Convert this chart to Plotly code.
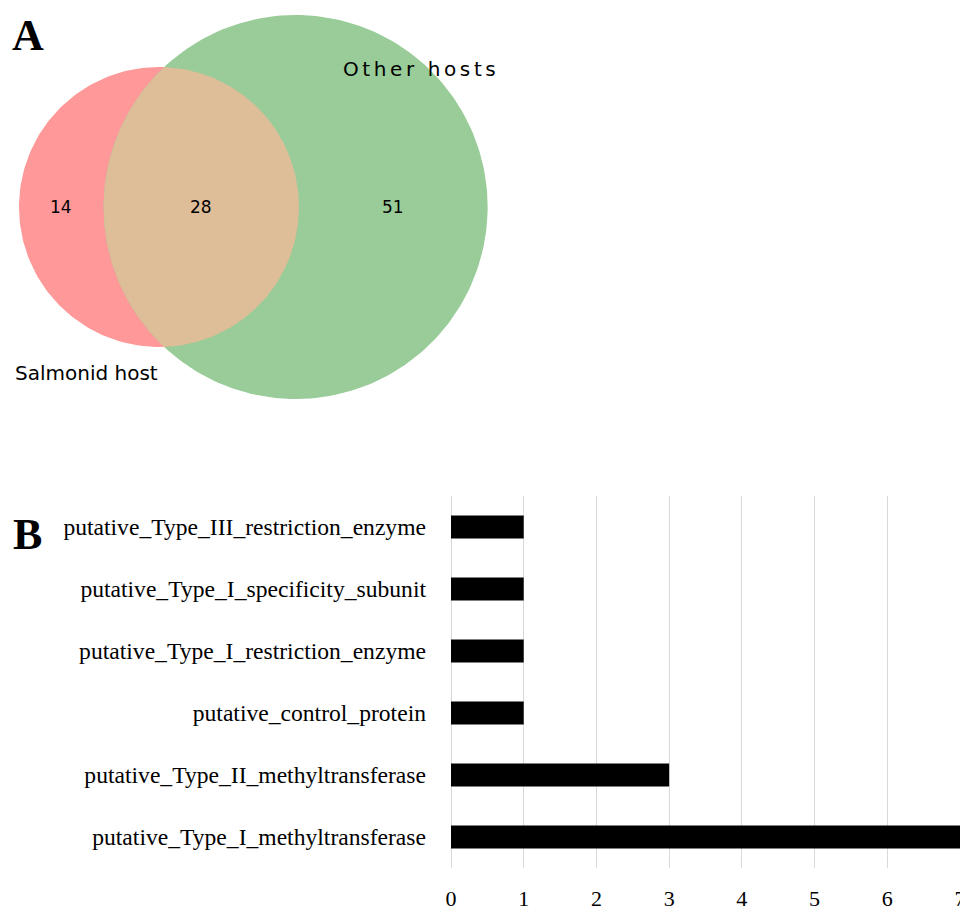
import math
import plotly.graph_objects as go

# ---- Panel A: Venn counts ----
set_names = ["Salmonid host", "Other hosts"]
only_salmonid = 14
shared = 28
only_other = 51

# ---- Panel B: restriction-modification gene counts (top to bottom) ----
categories = [
    "putative_Type_III_restriction_enzyme",
    "putative_Type_I_specificity_subunit",
    "putative_Type_I_restriction_enzyme",
    "putative_control_protein",
    "putative_Type_II_methyltransferase",
    "putative_Type_I_methyltransferase",
]
counts = [1, 1, 1, 1, 3, 7]
x_ticks = [0, 1, 2, 3, 4, 5, 6, 7]

W, H = 960, 906

# ---------- Venn geometry (area-proportional circles) ----------
area1 = only_salmonid + shared
area2 = only_other + shared
r1u = math.sqrt(area1 / math.pi)
r2u = math.sqrt(area2 / math.pi)


def lens_area(d, ra, rb):
    if d >= ra + rb:
        return 0.0
    if d <= abs(ra - rb):
        return math.pi * min(ra, rb) ** 2
    p1 = ra * ra * math.acos((d * d + ra * ra - rb * rb) / (2 * d * ra))
    p2 = rb * rb * math.acos((d * d + rb * rb - ra * ra) / (2 * d * rb))
    p3 = 0.5 * math.sqrt((-d + ra + rb) * (d + ra - rb) * (d - ra + rb) * (d + ra + rb))
    return p1 + p2 - p3


lo, hi = abs(r2u - r1u), r1u + r2u
for _ in range(100):
    mid = 0.5 * (lo + hi)
    if lens_area(mid, r1u, r2u) > shared:
        lo = mid
    else:
        hi = mid
du = 0.5 * (lo + hi)

# pixel scale and placement of the diagram
scale = 38.29
cx1, cy = 159.0, 207.0
r1 = r1u * scale
r2 = r2u * scale
cx2 = cx1 + du * scale


def circle(cx, cyy, r, n=240):
    xs, ys = [], []
    for i in range(n + 1):
        t = 2 * math.pi * i / n
        xs.append(cx + r * math.cos(t))
        ys.append(cyy - r * math.sin(t))
    return xs, ys


a = (du * du + r1u * r1u - r2u * r2u) / (2 * du) * scale
hh = math.sqrt(r1 * r1 - a * a)
th1 = math.atan2(hh, a)
th2 = math.atan2(hh, cx2 - cx1 - a)
lx, ly = [], []
n = 160
for i in range(n + 1):
    t = -th1 + 2 * th1 * i / n
    lx.append(cx1 + r1 * math.cos(t))
    ly.append(cy - r1 * math.sin(t))
for i in range(n + 1):
    t = math.pi - th2 + 2 * th2 * i / n
    lx.append(cx2 + r2 * math.cos(t))
    ly.append(cy - r2 * math.sin(t))

fig = go.Figure()

c1x, c1y = circle(cx1, cy, r1)
c2x, c2y = circle(cx2, cy, r2)
fig.add_trace(go.Scatter(x=c1x, y=c1y, mode="lines", fill="toself", fillcolor="#FF9999",
                         line=dict(width=0, color="#FF9999"), xaxis="x2", yaxis="y2",
                         hoverinfo="skip", showlegend=False))
fig.add_trace(go.Scatter(x=c2x, y=c2y, mode="lines", fill="toself", fillcolor="#99CC99",
                         line=dict(width=0, color="#99CC99"), xaxis="x2", yaxis="y2",
                         hoverinfo="skip", showlegend=False))
fig.add_trace(go.Scatter(x=lx, y=ly, mode="lines", fill="toself", fillcolor="#DEBD99",
                         line=dict(width=0, color="#DEBD99"), xaxis="x2", yaxis="y2",
                         hoverinfo="skip", showlegend=False))

# region counts at the middle of each region along the centre line
left1, right1 = cx1 - r1, cx1 + r1
left2, right2 = cx2 - r2, cx2 + r2
region_text = [
    ((left1 + left2) / 2, only_salmonid),
    ((left2 + right1) / 2, shared),
    ((right1 + right2) / 2, only_other),
]
venn_font = dict(family="DejaVu Sans", size=17, color="black")
for xx, val in region_text:
    fig.add_annotation(x=xx, y=cy, xref="x2", yref="y2", text=str(val), showarrow=False,
                       font=venn_font, xanchor="center", yanchor="middle")

fig.add_annotation(x=86, y=373, xref="x2", yref="y2", text=set_names[0], showarrow=False,
                   font=dict(family="DejaVu Sans", size=20, color="black"),
                   xanchor="center", yanchor="middle")
fig.add_annotation(x=421, y=69, xref="x2", yref="y2",
                   text='<span style="letter-spacing:3.6px">' + set_names[1] + "</span>",
                   showarrow=False, font=dict(family="DejaVu Sans", size=20, color="black"),
                   xanchor="center", yanchor="middle")

# ---------- Panel B: horizontal bars ----------
fig.add_trace(go.Bar(x=counts, y=categories, orientation="h", marker=dict(color="black", line=dict(width=0)),
                     width=0.37, xaxis="x", yaxis="y", showlegend=False))

serif = "Liberation Serif"
fig.update_layout(
    width=W, height=H,
    margin=dict(l=0, r=0, t=0, b=0),
    paper_bgcolor="white", plot_bgcolor="rgba(0,0,0,0)",
    xaxis=dict(domain=[451 / W, 1.0], range=[0, 7], tickvals=x_ticks,
               showgrid=True, gridcolor="#D9D9D9", gridwidth=1,
               zeroline=True, zerolinecolor="#D9D9D9", zerolinewidth=1,
               showline=False, ticks="", ticklabelstandoff=15,
               ticklabeloverflow="allow",
               tickfont=dict(family=serif, size=22, color="black"),
               anchor="y", automargin=False, fixedrange=True),
    yaxis=dict(domain=[(H - 868) / H, (H - 496) / H], autorange="reversed",
               categoryorder="array", categoryarray=categories,
               showgrid=False, zeroline=False, showline=False, ticks="",
               ticklabelstandoff=24,
               tickfont=dict(family=serif, size=23.6, color="black"),
               anchor="x", automargin=False, fixedrange=True),
    xaxis2=dict(domain=[0, 1], range=[0, W], visible=False, anchor="y2", fixedrange=True),
    yaxis2=dict(domain=[0, 1], range=[H, 0], visible=False, anchor="x2", fixedrange=True),
)

# panel letters
fig.add_annotation(x=10 / W, y=1 - 36 / H, xref="paper", yref="paper", text="<b>A</b>",
                   showarrow=False, xanchor="left", yanchor="middle",
                   font=dict(family=serif, size=44, color="black"))
fig.add_annotation(x=11 / W, y=1 - 534 / H, xref="paper", yref="paper", text="<b>B</b>",
                   showarrow=False, xanchor="left", yanchor="middle",
                   font=dict(family=serif, size=44, color="black"))

fig.write_html("out.html")
